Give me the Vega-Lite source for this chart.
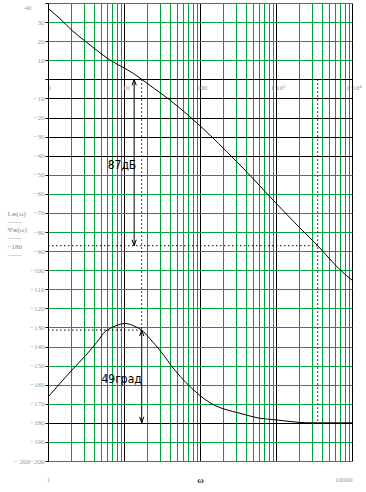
{
  "$schema": "https://vega.github.io/schema/vega-lite/v6.json",
  "autosize": {"type": "none"},
  "padding": {"left": 48, "top": 3, "right": 14, "bottom": 31},
  "width": 304,
  "height": 458,
  "background": "white",
  "config": {"view": {"stroke": null}},
  "datasets": {
    "curves": [
      {"w": 1, "v": 37.2, "s": "L"},
      {"w": 1.5, "v": 31.1, "s": "L"},
      {"w": 2.05, "v": 25.8, "s": "L"},
      {"w": 3.16, "v": 19.7, "s": "L"},
      {"w": 5.3, "v": 12.7, "s": "L"},
      {"w": 6.5, "v": 10.2, "s": "L"},
      {"w": 10, "v": 6.0, "s": "L"},
      {"w": 13.6, "v": 2.8, "s": "L"},
      {"w": 17.1, "v": 0, "s": "L"},
      {"w": 25, "v": -4.8, "s": "L"},
      {"w": 40, "v": -10.8, "s": "L"},
      {"w": 73.7, "v": -19.6, "s": "L"},
      {"w": 135, "v": -29.2, "s": "L"},
      {"w": 225, "v": -37.9, "s": "L"},
      {"w": 400, "v": -48, "s": "L"},
      {"w": 912, "v": -63.2, "s": "L"},
      {"w": 2200, "v": -79, "s": "L"},
      {"w": 3540, "v": -87.2, "s": "L"},
      {"w": 7000, "v": -99.9, "s": "L"},
      {"w": 10000, "v": -105.2, "s": "L"},
      {"w": 1, "v": -166.5, "s": "P"},
      {"w": 1.44, "v": -159.3, "s": "P"},
      {"w": 2.07, "v": -152.3, "s": "P"},
      {"w": 3.16, "v": -144.5, "s": "P"},
      {"w": 4.83, "v": -135.6, "s": "P"},
      {"w": 5.34, "v": -133.2, "s": "P"},
      {"w": 7.17, "v": -129.8, "s": "P"},
      {"w": 8.6, "v": -128.5, "s": "P"},
      {"w": 10.3, "v": -127.9, "s": "P"},
      {"w": 12.2, "v": -128.5, "s": "P"},
      {"w": 14.5, "v": -129.8, "s": "P"},
      {"w": 17.1, "v": -131.4, "s": "P"},
      {"w": 22, "v": -136, "s": "P"},
      {"w": 29.7, "v": -142, "s": "P"},
      {"w": 46.9, "v": -152.5, "s": "P"},
      {"w": 91, "v": -164.3, "s": "P"},
      {"w": 116, "v": -167.7, "s": "P"},
      {"w": 157, "v": -170.9, "s": "P"},
      {"w": 213, "v": -172.9, "s": "P"},
      {"w": 336, "v": -175.0, "s": "P"},
      {"w": 615, "v": -177.6, "s": "P"},
      {"w": 970, "v": -178.4, "s": "P"},
      {"w": 1528, "v": -179.3, "s": "P"},
      {"w": 2069, "v": -179.8, "s": "P"},
      {"w": 3000, "v": -180, "s": "P"},
      {"w": 10000, "v": -180, "s": "P"}
    ],
    "dotted": [
      {"w": 1, "w2": 3540, "v": -87.2, "v2": -87.2},
      {"w": 1, "w2": 17.1, "v": -131.4, "v2": -131.4},
      {"w": 17.1, "w2": 17.1, "v": 0, "v2": -131.4},
      {"w": 3540, "w2": 3540, "v": 0, "v2": -180}
    ],
    "arrows": [
      {"w": 13.6, "w2": 13.6, "v": 0, "v2": -87.2},
      {"w": 17.1, "w2": 17.1, "v": -131.4, "v2": -180}
    ],
    "heads": [
      {"w": 13.6, "v": 0, "dir": "up"},
      {"w": 13.6, "v": -87.2, "dir": "down"},
      {"w": 17.1, "v": -131.4, "dir": "up"},
      {"w": 17.1, "v": -180, "dir": "down"}
    ],
    "notes": [
      {"w": 9.4, "v": -44.7, "t": "87дБ"},
      {"w": 9.3, "v": -156.9, "t": "49град"}
    ],
    "zerolabels": [
      {"w": 1, "t": "1"},
      {"w": 10, "t": "10"},
      {"w": 100, "t": "100"},
      {"w": 1000, "t": "1·10³"},
      {"w": 10000, "t": "1·10⁴"}
    ]
  },
  "layer": [
    {
      "data": {"name": "curves"},
      "mark": {"type": "line", "color": "black", "strokeWidth": 1, "interpolate": "monotone"},
      "encoding": {
        "x": {
          "field": "w", "type": "quantitative",
          "scale": {"type": "log", "domain": [1, 10000], "nice": false},
          "axis": {
            "values": [1,2,3,4,5,6,7,8,9,10,20,30,40,50,60,70,80,90,100,200,300,400,500,600,700,800,900,1000,2000,3000,4000,5000,6000,7000,8000,9000,10000],
            "tickCount": 100,
            "grid": true,
            "gridColor": {"condition": {"test": "indexof([1,10,100,1000,10000], datum.value) >= 0", "value": "black"}, "value": "#00a040"},
            "gridWidth": 1,
            "gridOpacity": 1,
            "domain": false,
            "ticks": false,
            "labelOverlap": false,
            "labelBound": false,
            "labelExpr": "datum.value == 1 ? '1' : datum.value == 10000 ? '10000' : ''",
            "labelAlign": {"condition": {"test": "datum.value == 10000", "value": "right"}, "value": "center"},
            "labelBaseline": "middle",
            "labelPadding": 18,
            "labelFont": "Liberation Serif",
            "labelFontSize": 7,
            "labelColor": "#999",
            "title": "ω",
            "titleFont": "Liberation Serif",
            "titleFontSize": 9,
            "titleFontWeight": "bold",
            "titleColor": "#333",
            "titleY": 18,
            "titleBaseline": "middle"
          }
        },
        "y": {
          "field": "v", "type": "quantitative",
          "scale": {"domain": [-200, 40], "nice": false, "zero": false},
          "axis": {
            "values": [40,30,20,10,0,-10,-20,-30,-40,-50,-60,-70,-80,-90,-100,-110,-120,-130,-140,-150,-160,-170,-180,-190,-200],
            "tickCount": 100,
            "grid": true,
            "gridColor": {"condition": {"test": "(datum.value <= 0 && datum.value >= -40) || datum.value == -180", "value": "black"}, "value": "#00a040"},
            "gridWidth": 1,
            "gridOpacity": 1,
            "domain": true,
            "domainColor": "black",
            "domainWidth": 1,
            "ticks": true,
            "tickColor": "black",
            "tickSize": 3,
            "labelOverlap": false,
            "labelBound": false,
            "labelExpr": "datum.value == 0 ? '' : datum.value == -200 ? '−\u00a0200−200' : (datum.value < 0 ? '−' + abs(datum.value) : '' + datum.value)",
            "labelPadding": {"condition": {"test": "datum.value == 40", "value": 14}, "value": 1},
            "labelBaseline": {"condition": {"test": "datum.value == 40", "value": "top"}, "value": "middle"},
            "labelFont": "Liberation Serif",
            "labelFontSize": 7,
            "labelColor": "#999",
            "title": ["Lж(ω)", "——", "Ψж(ω)", "——", "−180", "——"],
            "titleAngle": 0,
            "titleAlign": "left",
            "titleBaseline": "top",
            "titleX": -41,
            "titleY": 206,
            "titleFont": "Liberation Serif",
            "titleFontSize": 7,
            "titleFontWeight": "normal",
            "titleColor": "#888",
            "titleLineHeight": 8.3
          }
        },
        "detail": {"field": "s"}
      }
    },
    {
      "data": {"name": "dotted"},
      "mark": {"type": "rule", "color": "black", "strokeWidth": 1, "strokeDash": [1.5, 2.5]},
      "encoding": {
        "x": {"field": "w", "type": "quantitative"},
        "x2": {"field": "w2"},
        "y": {"field": "v", "type": "quantitative"},
        "y2": {"field": "v2"}
      }
    },
    {
      "data": {"name": "arrows"},
      "mark": {"type": "rule", "color": "black", "strokeWidth": 1},
      "encoding": {
        "x": {"field": "w", "type": "quantitative"},
        "x2": {"field": "w2"},
        "y": {"field": "v", "type": "quantitative"},
        "y2": {"field": "v2"}
      }
    },
    {
      "data": {"name": "heads"},
      "mark": {"type": "point", "filled": false, "stroke": "black", "strokeWidth": 1, "size": 36, "opacity": 1},
      "encoding": {
        "x": {"field": "w", "type": "quantitative"},
        "y": {"field": "v", "type": "quantitative"},
        "shape": {"field": "dir", "type": "nominal", "scale": {"domain": ["up", "down"], "range": ["M-0.7,2L0,0L0.7,2", "M-0.7,-2L0,0L0.7,-2"]}, "legend": null}
      }
    },
    {
      "data": {"name": "notes"},
      "mark": {"type": "text", "font": "Liberation Sans Narrow, DejaVu Sans Condensed, sans-serif", "fontSize": 12, "color": "black", "align": "center", "baseline": "middle"},
      "encoding": {
        "x": {"field": "w", "type": "quantitative"},
        "y": {"field": "v", "type": "quantitative"},
        "text": {"field": "t"}
      }
    },
    {
      "data": {"name": "zerolabels"},
      "mark": {"type": "text", "font": "Liberation Serif", "fontSize": 7, "color": "#999", "align": "center", "baseline": "middle", "dx": 2},
      "encoding": {
        "x": {"field": "w", "type": "quantitative"},
        "y": {"datum": -4.6},
        "text": {"field": "t"}
      }
    }
  ]
}
